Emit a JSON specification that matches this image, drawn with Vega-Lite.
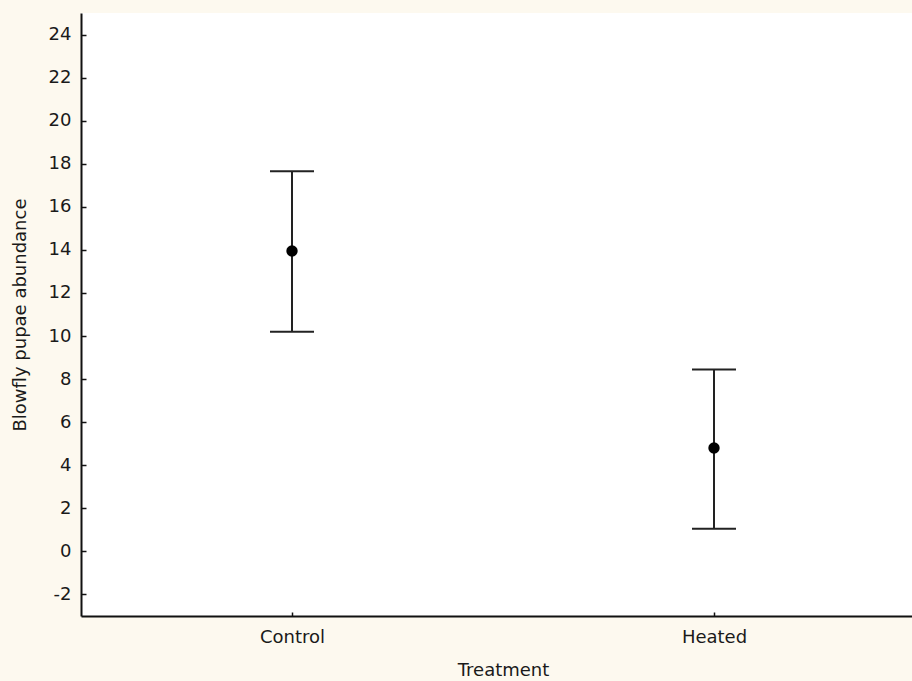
{
  "$schema": "https://vega.github.io/schema/vega-lite/v6.json",
  "width": 844,
  "height": 603,
  "autosize": {"type": "none"},
  "padding": {"left": 81, "top": 13, "right": 0, "bottom": 65},
  "background": "#fdf9ef",
  "config": {
    "view": {"fill": "white", "stroke": null},
    "font": "DejaVu Sans",
    "axis": {
      "domainColor": "#111",
      "domainWidth": 2,
      "tickColor": "#111",
      "tickWidth": 1.5,
      "grid": false,
      "labelFont": "DejaVu Sans",
      "labelFontSize": 18,
      "labelColor": "#1a1a1a",
      "titleFont": "DejaVu Sans",
      "titleFontSize": 18,
      "titleFontWeight": "normal",
      "titleColor": "#1a1a1a"
    }
  },
  "data": {
    "values": [
      {"Treatment": "Control", "mean": 13.95, "lower": 10.2, "upper": 17.65},
      {"Treatment": "Heated", "mean": 4.8, "lower": 1.05, "upper": 8.45}
    ]
  },
  "encoding": {
    "x": {
      "field": "Treatment",
      "type": "nominal",
      "scale": {"type": "point", "padding": 0.5},
      "axis": {
        "title": "Treatment",
        "labelAngle": 0,
        "tickSize": -4,
        "labelPadding": 16,
        "titleBaseline": "top",
        "titleY": 45
      }
    }
  },
  "layer": [
    {
      "mark": {"type": "rule", "color": "#222", "strokeWidth": 2},
      "encoding": {
        "y": {
          "field": "lower",
          "type": "quantitative",
          "scale": {"domain": [-3, 25], "nice": false, "zero": false},
          "axis": {
            "title": "Blowfly pupae abundance",
            "values": [-2, 0, 2, 4, 6, 8, 10, 12, 14, 16, 18, 20, 22, 24],
            "labelExpr": "'' + datum.value",
            "tickSize": -5,
            "labelPadding": 15,
            "titleX": -61,
            "titleBaseline": "middle"
          }
        },
        "y2": {"field": "upper"}
      }
    },
    {
      "mark": {"type": "tick", "color": "#222", "size": 44, "thickness": 2, "opacity": 1},
      "encoding": {"y": {"field": "upper", "type": "quantitative"}}
    },
    {
      "mark": {"type": "tick", "color": "#222", "size": 44, "thickness": 2, "opacity": 1},
      "encoding": {"y": {"field": "lower", "type": "quantitative"}}
    },
    {
      "mark": {"type": "point", "filled": true, "color": "#000", "size": 130, "opacity": 1},
      "encoding": {"y": {"field": "mean", "type": "quantitative"}}
    }
  ]
}
